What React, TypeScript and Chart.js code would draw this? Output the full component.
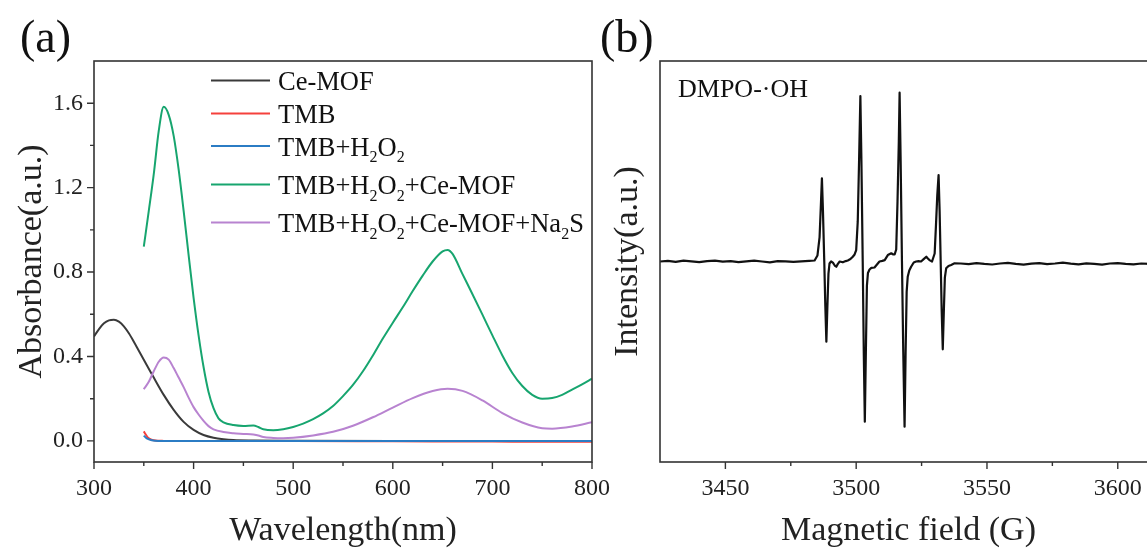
import React, { useEffect, useRef } from 'react';
import { Chart, registerables } from 'chart.js';

Chart.register(...registerables);

const SERIF = "'Liberation Serif', 'Times New Roman', Times, serif";
const INK = '#222222';

// ---- Panel (a): UV-vis absorbance spectra ----
const ceMofWl = [300, 305, 310, 315, 320, 325, 330, 335, 340, 345, 350, 355, 360, 370, 380, 390, 400, 410, 420, 430, 440, 460, 500, 600, 700, 800];
const ceMofAbs = [0.495, 0.53, 0.557, 0.571, 0.574, 0.565, 0.543, 0.51, 0.47, 0.427, 0.384, 0.342, 0.3, 0.218, 0.147, 0.09, 0.052, 0.028, 0.015, 0.008, 0.004, 0.002, 0.001, 0.0, 0.0, 0.0];

const tmbWl = [350, 352, 355, 360, 370, 400, 500, 600, 700, 750, 800];
const tmbAbs = [0.045, 0.03, 0.012, 0.003, 0.0, -0.001, -0.001, -0.002, -0.003, -0.004, -0.004];

const tmbH2o2Wl = [350, 353, 358, 365, 400, 500, 600, 700, 800];
const tmbH2o2Abs = [0.025, 0.012, 0.003, 0.0, 0.0, 0.0, -0.001, -0.001, -0.001];

const tmbH2o2MofWl = [350, 355, 360, 365, 370, 375, 380, 385, 390, 395, 400, 405, 410, 415, 420, 425, 430, 440, 450, 460, 465, 470, 480, 490, 500, 510, 520, 530, 540, 550, 560, 570, 580, 590, 600, 610, 620, 630, 640, 650, 655, 660, 670, 680, 690, 700, 710, 720, 730, 740, 750, 760, 770, 780, 790, 800];
const tmbH2o2MofAbs = [0.92, 1.09, 1.264, 1.469, 1.583, 1.545, 1.445, 1.285, 1.09, 0.88, 0.678, 0.5, 0.35, 0.232, 0.155, 0.107, 0.088, 0.075, 0.071, 0.073, 0.066, 0.055, 0.05, 0.055, 0.066, 0.082, 0.103, 0.13, 0.165, 0.212, 0.265, 0.33, 0.405, 0.485, 0.56, 0.633, 0.71, 0.783, 0.85, 0.898, 0.905, 0.886, 0.79, 0.695, 0.598, 0.5, 0.405, 0.322, 0.26, 0.218, 0.2, 0.203, 0.218, 0.243, 0.268, 0.295];

const tmbH2o2MofNa2sWl = [350, 355, 360, 365, 370, 375, 380, 385, 390, 395, 400, 405, 410, 415, 420, 430, 440, 450, 460, 465, 470, 480, 490, 500, 520, 540, 560, 580, 600, 620, 640, 655, 670, 690, 710, 730, 750, 760, 780, 800];
const tmbH2o2MofNa2sAbs = [0.245, 0.28, 0.33, 0.375, 0.395, 0.385, 0.345, 0.3, 0.255, 0.205, 0.16, 0.125, 0.095, 0.07, 0.055, 0.042, 0.036, 0.033, 0.03, 0.026, 0.018, 0.014, 0.013, 0.015, 0.026, 0.043, 0.072, 0.112, 0.158, 0.203, 0.236, 0.247, 0.237, 0.192, 0.132, 0.087, 0.06, 0.058, 0.068, 0.088];

const seriesLabels = ['Ce-MOF', 'TMB', 'TMB+H₂O₂', 'TMB+H₂O₂+Ce-MOF', 'TMB+H₂O₂+Ce-MOF+Na₂S'];
const seriesColors = ['#3a3a3a', '#f5413c', '#2b7cc4', '#17a56f', '#b883d0'];

const wlMajorTicks = [300, 400, 500, 600, 700, 800];
const wlMinorTicks = [350, 450, 550, 650, 750];
const absMajorTicks = [0.0, 0.4, 0.8, 1.2, 1.6];
const absMinorTicks = [0.2, 0.6, 1.0, 1.4];

// ---- Panel (b): EPR spectrum of the DMPO spin adduct ----
const fieldG = [
  3425.0, 3428, 3431, 3434, 3437, 3440, 3443, 3446, 3449, 3452, 3455, 3458, 3461, 3464, 3467, 3470, 3473, 3476, 3479, 3482,
  3484.1, 3485.2, 3486.0, 3486.5, 3486.9, 3487.3, 3487.8, 3488.2, 3488.6, 3489.0, 3489.4, 3489.8, 3490.4, 3491.1, 3491.8, 3492.4, 3493.0, 3493.7, 3494.9, 3496.0, 3496.8, 3497.8, 3498.7, 3499.4,
  3500.0, 3500.6, 3501.1, 3501.6, 3502.0, 3502.5, 3502.9, 3503.3, 3503.7, 3504.1, 3504.5, 3505.1, 3505.8, 3507.0, 3508.9, 3510.0, 3510.9, 3512.1, 3513.4, 3514.2, 3514.7,
  3515.3, 3515.8, 3516.3, 3516.6, 3517.0, 3517.5, 3518.0, 3518.5, 3518.9, 3519.3, 3519.7, 3520.3, 3521.0, 3522.0, 3522.9, 3523.8, 3524.8, 3525.8, 3526.8, 3527.4, 3528.0, 3529.0,
  3530.0, 3530.5, 3531.0, 3531.5, 3531.9, 3532.3, 3532.7, 3533.1, 3533.5, 3533.9, 3534.4, 3535.3, 3536.3, 3537.6,
  3540, 3543, 3546, 3549, 3552, 3555, 3558, 3561, 3564, 3567, 3570, 3573, 3576, 3579, 3582, 3585, 3588, 3591, 3594, 3597, 3600, 3603, 3606, 3609, 3612, 3615,
];
const epIntensity = [
  0.0, 0.003, -0.002, 0.004, 0.001, -0.003, 0.002, 0.004, -0.001, 0.002, -0.003, 0.001, 0.004, 0.0, -0.004, 0.002, 0.001, -0.002, 0.001, 0.003,
  0.005, 0.03, 0.12, 0.28, 0.415, 0.25, 0.0, -0.22, -0.4, -0.22, -0.06, -0.01, 0.0, -0.006, -0.02, -0.026, -0.012, 0.0, -0.004, 0.002, 0.005, 0.012, 0.024, 0.035,
  0.057, 0.2, 0.5, 0.825, 0.5, 0.0, -0.45, -0.799, -0.45, -0.12, -0.057, -0.04, -0.032, -0.03, 0.0, 0.003, 0.007, 0.032, 0.041, 0.035, 0.035,
  0.06, 0.3, 0.6, 0.842, 0.5, 0.0, -0.45, -0.824, -0.45, -0.15, -0.076, -0.045, -0.026, -0.005, 0.0, 0.002, 0.0, 0.012, 0.024, 0.015, 0.007, 0.0,
  0.04, 0.18, 0.33, 0.431, 0.25, 0.0, -0.25, -0.438, -0.25, -0.08, -0.034, -0.022, -0.017, -0.009,
  -0.01, -0.013, -0.008, -0.012, -0.015, -0.01, -0.007, -0.012, -0.016, -0.011, -0.008, -0.013, -0.01, -0.006, -0.011, -0.014, -0.009, -0.012, -0.016, -0.01, -0.008, -0.012, -0.014, -0.01, -0.012, -0.011,
];
const fieldMajorTicks = [3450, 3500, 3550, 3600];
const fieldMinorTicks = [3475, 3525, 3575];

const pairs = (xs: number[], ys: number[]) => xs.map((x, i) => ({ x, y: ys[i] }));

// Text with '₂' drawn as a real subscript 2
function drawRichText(ctx: CanvasRenderingContext2D, text: string, x: number, y: number, size: number) {
  let cx = x;
  let buf = '';
  const flush = () => {
    if (!buf) return;
    ctx.font = `${size}px ${SERIF}`;
    ctx.fillText(buf, cx, y);
    cx += ctx.measureText(buf).width;
    buf = '';
  };
  for (const ch of text) {
    if (ch === '₂') {
      flush();
      const sub = Math.round(size * 0.62);
      ctx.font = `${sub}px ${SERIF}`;
      ctx.fillText('2', cx, y + size * 0.25);
      cx += ctx.measureText('2').width;
    } else {
      buf += ch;
    }
  }
  flush();
}

function drawFrameAndTicks(
  chart: any,
  xMajor: number[],
  xMinor: number[],
  yMajor: number[],
  yMinor: number[],
) {
  const { ctx, chartArea: a, scales } = chart;
  ctx.save();
  ctx.strokeStyle = '#333';
  ctx.lineWidth = 1.6;
  ctx.strokeRect(a.left, a.top, a.right - a.left, a.bottom - a.top);
  ctx.lineWidth = 1.4;
  ctx.beginPath();
  const tick = (x1: number, y1: number, x2: number, y2: number) => {
    ctx.moveTo(x1, y1);
    ctx.lineTo(x2, y2);
  };
  xMajor.forEach((v) => { const p = scales.x.getPixelForValue(v); tick(p, a.bottom, p, a.bottom + 7); });
  xMinor.forEach((v) => { const p = scales.x.getPixelForValue(v); tick(p, a.bottom, p, a.bottom + 4); });
  yMajor.forEach((v) => { const p = scales.y.getPixelForValue(v); tick(a.left, p, a.left - 7, p); });
  yMinor.forEach((v) => { const p = scales.y.getPixelForValue(v); tick(a.left, p, a.left - 4, p); });
  ctx.stroke();
  ctx.restore();
}

const absorbanceDecor = {
  id: 'absorbanceDecor',
  afterDraw(chart: any) {
    const { ctx } = chart;
    drawFrameAndTicks(chart, wlMajorTicks, wlMinorTicks, absMajorTicks, absMinorTicks);
    ctx.save();
    ctx.fillStyle = '#111';
    ctx.textBaseline = 'alphabetic';
    ctx.textAlign = 'left';
    ctx.font = `46px ${SERIF}`;
    ctx.fillText('(a)', 20, 52);
    // legend
    const baselines = [90, 123, 155.5, 194, 232];
    seriesLabels.forEach((label, i) => {
      const yb = baselines[i];
      ctx.strokeStyle = seriesColors[i];
      ctx.lineWidth = 2;
      ctx.beginPath();
      ctx.moveTo(211, yb - 9.5);
      ctx.lineTo(270, yb - 9.5);
      ctx.stroke();
      ctx.fillStyle = '#111';
      drawRichText(ctx, label, 278, yb, 26.5);
    });
    ctx.restore();
  },
};

const epDecor = {
  id: 'epDecor',
  afterDraw(chart: any) {
    const { ctx } = chart;
    drawFrameAndTicks(chart, fieldMajorTicks, fieldMinorTicks, [], []);
    ctx.save();
    ctx.fillStyle = '#111';
    ctx.textBaseline = 'alphabetic';
    ctx.textAlign = 'left';
    ctx.font = `46px ${SERIF}`;
    ctx.fillText('(b)', 600, 52);
    ctx.font = `26px ${SERIF}`;
    ctx.fillText('DMPO-·OH', 678, 96.5);
    ctx.restore();
  },
};

const tickFont = { family: SERIF, size: 24 };
const titleFont = { family: SERIF, size: 34, lineHeight: 1 };

export default function App() {
  const refA = useRef<HTMLCanvasElement>(null);
  const refB = useRef<HTMLCanvasElement>(null);

  useEffect(() => {
    const series = [
      { x: ceMofWl, y: ceMofAbs, order: 4 },
      { x: tmbWl, y: tmbAbs, order: 3 },
      { x: tmbH2o2Wl, y: tmbH2o2Abs, order: 2 },
      { x: tmbH2o2MofWl, y: tmbH2o2MofAbs, order: 1 },
      { x: tmbH2o2MofNa2sWl, y: tmbH2o2MofNa2sAbs, order: 0 },
    ];
    const chartA = new Chart(refA.current as HTMLCanvasElement, {
      type: 'line',
      data: {
        datasets: series.map((s, i) => ({
          label: seriesLabels[i],
          data: pairs(s.x, s.y),
          borderColor: seriesColors[i],
          backgroundColor: seriesColors[i],
          borderWidth: 2,
          pointRadius: 0,
          cubicInterpolationMode: 'monotone' as const,
          order: s.order,
        })),
      },
      options: {
        responsive: false,
        animation: false,
        layout: { padding: { left: 0, top: 61, right: 1147 - 592, bottom: 0 } },
        plugins: { legend: { display: false }, tooltip: { enabled: false } },
        scales: {
          x: {
            type: 'linear',
            min: 300,
            max: 800,
            grid: { display: false, drawTicks: false },
            border: { display: false },
            afterBuildTicks: (s: any) => { s.ticks = wlMajorTicks.map((v) => ({ value: v })); },
            afterFit: (s: any) => { s.height = 88; },
            ticks: { padding: 12, font: tickFont, color: INK, maxRotation: 0, autoSkip: false },
            title: { display: true, text: 'Wavelength(nm)', font: titleFont, color: INK, padding: { top: 0, bottom: 1.5 } },
          },
          y: {
            type: 'linear',
            min: -0.1,
            max: 1.8,
            grid: { display: false, drawTicks: false },
            border: { display: false },
            afterBuildTicks: (s: any) => { s.ticks = absMajorTicks.map((v) => ({ value: v })); },
            afterFit: (s: any) => { s.width = 94; },
            ticks: { padding: 11, font: tickFont, color: INK, callback: (v: any) => Number(v).toFixed(1) },
            title: { display: true, text: 'Absorbance(a.u.)', font: titleFont, color: INK, padding: { top: 15, bottom: 0 } },
          },
        },
      },
      plugins: [absorbanceDecor],
    });

    const chartB = new Chart(refB.current as HTMLCanvasElement, {
      type: 'line',
      data: {
        datasets: [
          {
            label: 'DMPO-·OH',
            data: pairs(fieldG, epIntensity),
            borderColor: '#111111',
            borderWidth: 2.2,
            pointRadius: 0,
            tension: 0,
            borderJoinStyle: 'round' as const,
          },
        ],
      },
      options: {
        responsive: false,
        animation: false,
        layout: { padding: { left: 600, top: 61, right: 43, bottom: 0 } },
        plugins: { legend: { display: false }, tooltip: { enabled: false } },
        scales: {
          x: {
            type: 'linear',
            min: 3425,
            max: 3615,
            grid: { display: false, drawTicks: false },
            border: { display: false },
            afterBuildTicks: (s: any) => { s.ticks = fieldMajorTicks.map((v) => ({ value: v })); },
            afterFit: (s: any) => { s.height = 88; },
            ticks: { padding: 12, font: tickFont, color: INK, maxRotation: 0, autoSkip: false, callback: (v: any) => String(v) },
            title: { display: true, text: 'Magnetic field (G)', font: titleFont, color: INK, padding: { top: 0, bottom: 1.5 } },
          },
          y: {
            type: 'linear',
            min: -1,
            max: 1,
            grid: { display: false, drawTicks: false },
            border: { display: false },
            afterFit: (s: any) => { s.width = 60; },
            ticks: { display: false },
            title: { display: true, text: 'Intensity(a.u.)', font: titleFont, color: INK, padding: { top: 11, bottom: 0 } },
          },
        },
      },
      plugins: [epDecor],
    });

    return () => {
      chartA.destroy();
      chartB.destroy();
    };
  }, []);

  return (
    <div
      style={{
        position: 'absolute',
        left: 0,
        top: 0,
        width: 1147,
        height: 550,
        overflow: 'hidden',
        background: '#ffffff',
      }}
    >
      <canvas ref={refA} width={1147} height={550} style={{ position: 'absolute', left: 0, top: 0 }} />
      <canvas ref={refB} width={1200} height={550} style={{ position: 'absolute', left: 0, top: 0 }} />
    </div>
  );
}
